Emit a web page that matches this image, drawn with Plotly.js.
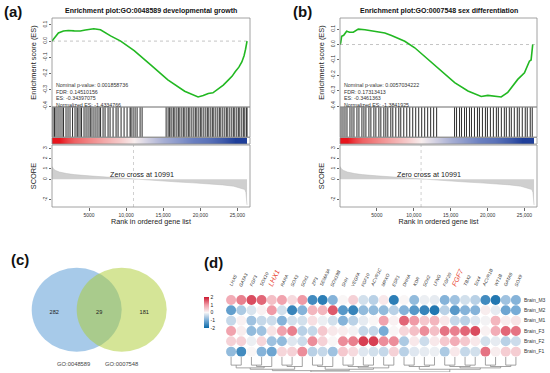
<!DOCTYPE html>
<html><head><meta charset="utf-8">
<script src="https://cdn.plot.ly/plotly-3.0.1.min.js"></script>
<style>html,body{margin:0;padding:0;background:#fff}#chart{width:550px;height:373px}</style>
</head><body><div id="chart"></div>
<script>
// ---------------- DATA ----------------
const titleA = "Enrichment plot:GO:0048589 developmental growth";
const titleB = "Enrichment plot:GO:0007548 sex differentiation";
const statsA = ["Nominal p-value: 0.001858736","FDR: 0.14510156","ES: -0.34397075","Normalized ES: -1.4334766"];
const statsB = ["Nominal p-value: 0.0057034222","FDR: 0.17313413","ES: -0.3461363","Normalized ES: -1.3841925"];
const zeroCross = 10991;

const esRankA = [0,300,862,1543,2200,3000,3814,4500,5629,6538,7900,9262,11080,13350,15620,17890,19000,19700,20400,21070,21700,22430,23100,23800,24300,24700,25200,25600,25900,26100,26300];
const esValA  = [0,0.02,0.05,0.062,0.065,0.063,0.062,0.068,0.076,0.07,0.032,0.0,-0.058,-0.148,-0.238,-0.308,-0.33,-0.343,-0.335,-0.322,-0.318,-0.295,-0.27,-0.238,-0.215,-0.188,-0.16,-0.128,-0.09,-0.05,0];

const esRankB = [0,90,225,500,900,1300,1800,2480,3380,4280,5180,6080,6980,7880,8780,10130,11930,13740,15540,17340,19140,20040,20940,21840,22740,23410,24090,25000,25670,25900,26120];
const esValB  = [0,0.01,0.054,0.06,0.086,0.08,0.08,0.1,0.096,0.09,0.08,0.075,0.058,0.037,0.021,-0.021,-0.097,-0.172,-0.247,-0.301,-0.337,-0.33,-0.335,-0.34,-0.31,-0.269,-0.226,-0.183,-0.108,-0.1,0];

const hitsA = [135,338,540,810,1080,1350,1553,1890,2160,2430,2768,3105,3375,3510,3780,3983,4320,4590,4860,5130,5265,5535,5805,6075,6345,6548,6885,7155,7560,7830,8235,8640,8910,9315,9720,10125,10530,10665,10935,11205,11475,11880,12150,
 15390,15660,15863,16065,16335,16470,16740,17010,17145,17415,17685,17820,18090,18360,18495,18765,19035,19305,19440,19710,19980,20115,20385,20655,20925,21060,21330,21600,21735,22005,22275,22545,22680,22950,23220,23490,23625,23895,24165,24435,24570,24840,25110,25245,25515,25785,25920,26190,26300];
const hitsB = [135,405,675,945,1350,1620,1890,2295,2565,2970,3240,3510,3915,4185,4590,4860,5265,5535,5940,6210,6480,6885,7155,7560,7965,8235,8640,9045,9450,9855,10260,10665,11070,11475,11880,12285,12690,13095,
 15525,15795,16200,16470,16875,17145,17550,17820,18225,18630,18900,19305,19710,19980,20385,20790,21195,21465,21870,22275,22545,22950,23220,23625,24030,24300,24705,25110,25380,25785,26055];

const scoreRank = [0,200,500,1000,2000,3000,5000,7000,9000,10991,13000,15000,17000,19000,21000,23000,24500,25500,26000,26150,26250,26300];
const scoreVal  = [1.25,1.0,0.85,0.7,0.55,0.45,0.33,0.22,0.12,0,-0.1,-0.2,-0.27,-0.35,-0.42,-0.55,-0.68,-0.85,-1.0,-1.3,-1.8,-2.5];

const vennSets = ["GO:0048589","GO:0007548"];
const vennCounts = [282, 29, 181];   // only A, both, only B

const genes = ["LHX5","GATA3","FGF3","SOX10","LHX1","RARA","SOX3","SOX1","ZP3","SEMA3A","SOX19B","SHH","VEGFA","FGF10","ACVR1C","MPXO","ESR1","DHHA","KDR","SOX2","LFNG","FGF20","FGF7","TBX2","SIX4","ACVR1B","WT1B","GATA6","SOX9"];
const highlightGenes = ["LHX1","FGF7"];
const samples = ["Brain_M3","Brain_M2","Brain_M1","Brain_F3","Brain_F2","Brain_F1"];
const zM3 = [0.8,1.2,1.6,1.4,0.6,0.9,0.3,1.0,-1.5,-1.7,-0.9,0,0.4,-0.3,-0.5,0.15,-1.7,0,-0.8,-0.1,-0.15,-0.9,-0.7,-0.3,-0.5,-1.5,-1.8,-0.7,-0.9];
const zM2 = [-1.2,-0.6,-0.25,0.05,1.0,-0.3,-1.6,-0.9,0.7,0.7,1.5,-1.3,-1.6,-0.8,-0.8,-0.8,-0.5,-0.9,-1.3,-1.6,-1.8,-0.5,-1.3,-0.9,-0.9,0.1,-0.15,-1.1,-1.0];
const zM1 = [-0.4,0.05,-0.7,-0.4,-0.35,-0.9,-0.3,-0.3,0.25,-0.1,-0.3,-0.9,-0.5,-0.15,0,0.9,0.05,1.4,1.0,0.5,0.7,0.15,-0.4,-0.5,-0.2,-0.05,0.7,0.1,0.2];
const zF3 = [0.9,0.1,-0.8,-0.7,0.2,0.9,1.2,-0.5,-0.4,0.5,0.15,0.1,-0.05,-0.4,-0.4,-1.0,0,0.35,0.6,1.1,0.6,1.3,1.2,1.4,1.6,0.05,0.8,1.4,1.3];
const zF2 = [0.4,0.4,-0.1,0.35,-0.7,-0.8,-0.2,-0.35,1.1,0.4,0,1.1,1.2,1.7,1.7,1.1,1.1,-0.6,0.15,-0.35,0.15,0.5,0.8,0.5,0.15,-0.3,-0.15,-0.5,-0.35];
const zF1 = [-0.8,-1.5,0,-0.9,-1.1,0.35,0.4,1.1,-0.5,-0.4,-0.7,0.5,0.3,-0.2,-0.3,-0.4,0.4,-0.5,-0.2,-0.15,-0.1,-0.6,0.15,-0.4,-0.3,1.3,0.1,0.45,0.45];
// column clustering (leaf order = gene index)
const colTree = [[[[[0,1],[[2,3],4]],[[5,6],7]],[[[8,9],10],[[[11,12],[13,14]],[15,16]]]],[[[17,18],[19,20]],[[[21,22],[23,24]],[[25,26],[27,28]]]]];

// ---------------- HELPERS ----------------
const W = 550, H = 373;
const PX = p => p / W;
const PY = p => 1 - p / H;
const FONT = "Liberation Sans, Arial, sans-serif";
const traces = [];
const shapes = [];
const annotations = [];
const layout = {
  width: W, height: H, margin: {l:0,r:0,t:0,b:0}, showlegend: false,
  paper_bgcolor: "#fff", plot_bgcolor: "rgba(0,0,0,0)",
  font: {family: FONT, color: "#222", size: 5}
};

function gseaPanel(p) {
  const xa = p.xName, xk = p.xKey;
  const [yES, yHit, yStrip, ySc] = p.yKeys;
  const [yESn, yHitn, yStripn, yScn] = p.yNames;
  layout[xa] = {domain:[PX(p.left),PX(p.right)], range:[0,26700], anchor: ySc,
    tickvals:[5000,10000,15000,20000,25000], ticktext:["5000","10,000","15,000","20,000","25,000"],
    ticks:"outside", ticklen:2.5, tickcolor:"#666", tickfont:{size:5,color:"#333"},
    showgrid:false, zeroline:false, showline:false,
    title:{text:"Rank in ordered gene list", font:{size:7.2,color:"#222"}, standoff:2}};
  layout[yESn] = {domain:[PY(107),PY(18)], range:p.esRange, anchor:xk,
    tickvals:[0.1,0,-0.1,-0.2,-0.3,-0.4], ticktext:["0.1","0.0","-0.1","-0.2","-0.3","-0.4"],
    tickangle:-90, ticks:"outside", ticklen:2.5, tickcolor:"#666", tickfont:{size:5,color:"#333"},
    showgrid:false, zeroline:false, showline:false,
    title:{text:"Enrichment score (ES)", font:{size:7.4,color:"#222"}, standoff:3}};
  layout[yHitn] = {domain:[PY(137),PY(107)], range:[0,1], anchor:xk, visible:false};
  layout[yStripn] = {domain:[PY(144),PY(137.5)], range:[0,1], anchor:xk, visible:false};
  layout[yScn] = {domain:[PY(207),PY(145)], range:[-2.7,3.33], anchor:xk,
    tickvals:[3,2,1,0,-2], ticktext:["3","2","1","0","-2"],
    tickangle:-90, ticks:"outside", ticklen:2.5, tickcolor:"#666", tickfont:{size:5,color:"#333"},
    showgrid:false, zeroline:false, showline:false,
    title:{text:"SCORE", font:{size:7.4,color:"#222"}, standoff:3}};
  traces.push({type:"scatter", mode:"lines", x:[0,26700], y:[0,0], xaxis:xk, yaxis:yES,
    line:{color:"#aaa", width:0.7, dash:"dot"}, hoverinfo:"skip"});
  traces.push({type:"scatter", mode:"lines", x:p.esRank, y:p.esVal, xaxis:xk, yaxis:yES,
    line:{color:"#22b822", width:1.6}, hoverinfo:"skip"});
  const hx = [], hy = [];
  p.hits.forEach(r => { hx.push(r, r, null); hy.push(0, 1, null); });
  traces.push({type:"scatter", mode:"lines", x:hx, y:hy, xaxis:xk, yaxis:yHit,
    line:{color:"rgba(0,0,0,0.8)", width:1.05}, hoverinfo:"skip"});
  traces.push({type:"heatmap", x:scoreRank, y:[0.5], z:[scoreVal], xaxis:xk, yaxis:yStrip,
    zmin:-0.7, zmax:0.7, showscale:false, hoverinfo:"skip", zsmooth:"best",
    colorscale:[[0,"#1f3f9a"],[0.25,"#6a7fc0"],[0.5,"#f8eeee"],[0.75,"#f08080"],[1,"#e8141c"]]});
  traces.push({type:"scatter", mode:"lines", x:scoreRank, y:scoreVal, xaxis:xk, yaxis:ySc,
    fill:"tozeroy", fillcolor:"#cfcfcf", line:{color:"#bdbdbd", width:0.5}, hoverinfo:"skip"});
  traces.push({type:"scatter", mode:"lines", x:[zeroCross,zeroCross], y:[-2.7,3.33], xaxis:xk, yaxis:ySc,
    line:{color:"#bbb", width:0.7, dash:"dot"}, hoverinfo:"skip"});
  [yES, yHit, yStrip, ySc].forEach(yk => shapes.push({type:"rect", xref:xk+" domain", yref:yk+" domain",
    x0:0, x1:1, y0:0, y1:1, line:{color:"#8a8a8a", width:0.8}, fillcolor:"rgba(0,0,0,0)"}));
  annotations.push({xref:"paper", yref:"paper", x:PX((p.left+p.right)/2), y:PY(10.5), text:"<b>"+p.title+"</b>",
    showarrow:false, font:{size:7,color:"#111"}, xanchor:"center", yanchor:"middle"});
  annotations.push({xref:"paper", yref:"paper", x:PX(p.labX), y:PY(11), text:p.label,
    showarrow:false, font:{size:15,color:"#111"}, xanchor:"center", yanchor:"middle"});
  p.stats.forEach((s, i) => annotations.push({xref:"paper", yref:"paper", x:PX(p.left+2), y:PY(85+i*6.6),
    text:s, showarrow:false, font:{size:5.3,color:"#333"}, xanchor:"left", yanchor:"middle"}));
  annotations.push({xref:xk, yref:ySc, x:zeroCross, y:0.45, xshift:8, text:"Zero cross at " + zeroCross,
    showarrow:false, font:{size:7.2,color:"#222"}, xanchor:"center", yanchor:"middle"});
}

gseaPanel({xName:"xaxis", xKey:"x", yKeys:["y","y2","y3","y4"], yNames:["yaxis","yaxis2","yaxis3","yaxis4"],
  left:52, right:250, esRange:[-0.405,0.142], esRank:esRankA, esVal:esValA, hits:hitsA,
  title:titleA, label:"<b>(a)</b>", labX:13, stats:statsA});
gseaPanel({xName:"xaxis2", xKey:"x2", yKeys:["y5","y6","y7","y8"], yNames:["yaxis5","yaxis6","yaxis7","yaxis8"],
  left:340, right:537, esRange:[-0.405,0.172], esRank:esRankB, esVal:esValB, hits:hitsB,
  title:titleB, label:"<b>(b)</b>", labX:302, stats:statsB});

// ---------------- VENN ----------------
layout.xaxis3 = {domain:[0, PX(200)], range:[0,200], anchor:"y9", visible:false, fixedrange:true};
layout.yaxis9 = {domain:[0, PY(190)], range:[373,190], anchor:"x3", visible:false, fixedrange:true};
const vc = [{cx:76.7, cy:309.7, fill:"rgba(80,150,212,0.5)"}, {cx:121.7, cy:309.7, fill:"rgba(172,204,48,0.5)"}];
const vrx = 45, vry = 42;
vc.forEach(c => shapes.push({type:"circle", xref:"x3", yref:"y9", x0:c.cx-vrx, x1:c.cx+vrx, y0:c.cy-vry, y1:c.cy+vry,
  fillcolor:c.fill, line:{width:0}, layer:"below"}));
const regionX = [(vc[0].cx - vrx + vc[1].cx - vrx)/2, (vc[0].cx + vc[1].cx)/2, (vc[0].cx + vrx + vc[1].cx + vrx)/2];
traces.push({type:"scatter", mode:"text", x:regionX, y:[313,313,313], text:vennCounts.map(String), xaxis:"x3", yaxis:"y9",
  textfont:{size:5.6,color:"#222"}, hoverinfo:"skip"});
traces.push({type:"scatter", mode:"text", x:[vc[0].cx-3, vc[1].cx], y:[365,365], text:vennSets, xaxis:"x3", yaxis:"y9",
  textfont:{size:5.8,color:"#444"}, hoverinfo:"skip"});
annotations.push({xref:"paper", yref:"paper", x:PX(20), y:PY(259), text:"<b>(c)</b>", showarrow:false,
  font:{size:15,color:"#111"}, xanchor:"center", yanchor:"middle"});
annotations.push({xref:"paper", yref:"paper", x:PX(213), y:PY(262), text:"<b>(d)</b>", showarrow:false,
  font:{size:15,color:"#111"}, xanchor:"center", yanchor:"middle"});

// ---------------- HEATMAP (circles) ----------------
const zRows = [zM3, zM2, zM1, zF3, zF2, zF1];
layout.xaxis4 = {domain:[PX(226), PX(521)], range:[-0.5, genes.length-0.5], anchor:"y10", visible:false};
layout.yaxis10 = {domain:[PY(356.8), PY(294.8)], range:[-0.5, samples.length-0.5], anchor:"x4", side:"right",
  tickvals:samples.map((s,i)=>samples.length-1-i), ticktext:samples, ticks:"", showgrid:false, zeroline:false,
  showline:false, tickfont:{size:5,color:"#333"}, ticklabelstandoff:2};
const hx = [], hy = [], hz = [];
zRows.forEach((row, i) => row.forEach((v, j) => { hx.push(j); hy.push(samples.length-1-i); hz.push(v); }));
traces.push({type:"scatter", mode:"markers", x:hx, y:hy, xaxis:"x4", yaxis:"y10", hoverinfo:"skip",
  marker:{size:10, color:hz, cmin:-2, cmax:2, line:{width:0},
    colorscale:[[0,"#0b6aa8"],[0.25,"#78acd6"],[0.5,"#f9f6f6"],[0.75,"#f09aa6"],[1,"#cc1830"]],
    colorbar:{x:PX(204), xanchor:"left", xref:"paper", y:PY(312.5), yanchor:"middle", yref:"paper",
      len:31, lenmode:"pixels", thickness:4.5, thicknessmode:"pixels", tickvals:[-2,-1,0,1,2],
      ticktext:["-2","-1","0","1","2"], ticks:"", outlinewidth:0, tickfont:{size:5,color:"#222"}, xpad:0, ypad:0}}});
genes.forEach((g, j) => {
  const hl = highlightGenes.includes(g);
  annotations.push({xref:"x4", yref:"paper", x:j, y:PY(290), xshift:2.5, text:"<i>"+g+"</i>", textangle:-65,
    showarrow:false, xanchor:"center", yanchor:"bottom",
    font:{size: hl ? 7 : 4.6, color: hl ? "#e8412c" : "#333"}});
});
// dendrogram
layout.yaxis11 = {domain:[PY(372), PY(357)], range:[1, 0], anchor:"x4", visible:false};
function depth(n){ return typeof n === "number" ? 0 : 1 + Math.max(...n.map(depth)); }
const maxD = depth(colTree);
const dx = [], dy = [];
const hmap = d => d === 0 ? 0 : 0.45 + 0.55 * d / maxD;
function walk(n){
  if (typeof n === "number") return {x:n, d:0};
  const ch = n.map(walk);
  const d = 1 + Math.max(...ch.map(c=>c.d));
  const hy0 = hmap(d);
  ch.forEach(c => { dx.push(c.x, c.x, null); dy.push(hmap(c.d), hy0, null); });
  dx.push(ch[0].x, ch[ch.length-1].x, null); dy.push(hy0, hy0, null);
  return {x:(ch[0].x + ch[ch.length-1].x)/2, d:d};
}
walk(colTree);
traces.push({type:"scatter", mode:"lines", x:dx, y:dy, xaxis:"x4", yaxis:"y11",
  line:{color:"#8c8c8c", width:0.8}, hoverinfo:"skip"});

layout.shapes = shapes;
layout.annotations = annotations;
Plotly.newPlot("chart", traces, layout, {staticPlot:true, displayModeBar:false});
</script></body></html>
